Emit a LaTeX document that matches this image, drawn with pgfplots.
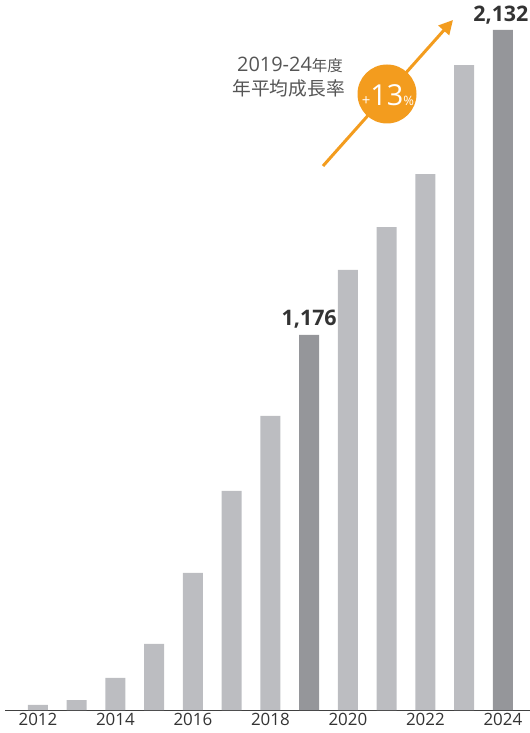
\documentclass[border=0pt]{standalone}
\usepackage{pgfplots}
\pgfplotsset{compat=1.18}
\usepackage{fontspec}
\setmainfont{Open Sans}
\newfontfamily\jp{Noto Sans CJK JP}
\usetikzlibrary{arrows.meta}
\definecolor{lightbar}{HTML}{BCBDC1}
\definecolor{darkbar}{HTML}{95969A}
\definecolor{orng}{HTML}{F39C1E}
\definecolor{txt}{HTML}{333333}
\definecolor{ann}{HTML}{555555}
\begin{document}
\begin{tikzpicture}
\useasboundingbox (0,0) rectangle (530bp,733bp);
\begin{axis}[
  at={(5bp,23bp)}, anchor=south west,
  scale only axis, width=525bp, height=710bp,
  xmin=2011.15, xmax=2024.70, ymin=0, ymax=2226,
  axis x line*=bottom, axis y line=none,
  x axis line style={-, line width=1pt, color=black!75},
  xtick={2012,2014,...,2024},
  /pgf/number format/assume math mode=true,
  xticklabel style={font=\fontsize{17}{19}\selectfont, text=txt, yshift=0bp},
  xticklabel={\pgfmathprintnumber[1000 sep={}]{\tick}},
  major tick length=0pt,
  ybar, bar width=20bp, bar shift=0pt,
  clip=false,
]
\addplot[fill=lightbar, draw=none] coordinates {
(2012,16) (2013,31) (2014,101) (2015,207) (2016,430) (2017,687) (2018,922)
(2020,1380) (2021,1514) (2022,1680) (2023,2022)};
\addplot[fill=darkbar, draw=none] coordinates {(2019,1176) (2024,2132)};
\node[anchor=south, font=\fontsize{21.5}{23}\selectfont\bfseries, text=txt, inner sep=0pt] at (axis cs:2019,1176) [yshift=6bp] {1,176};
\node[anchor=south, font=\fontsize{21.5}{23}\selectfont\bfseries, text=txt, inner sep=0pt] at (axis cs:2024,2132) [yshift=6bp,xshift=-2bp] {2,132};
\end{axis}
\begin{scope}[x=1bp,y=-1bp,shift={(0,733bp)}]
\draw[orng, line width=3bp, -{Triangle[length=14bp,width=14bp]}] (323,166) -- (453,20);
\fill[orng] (387,94) circle (29.5);
\node[text=white, inner sep=0pt] at (388,95) {\fontsize{15}{16}\selectfont +\fontsize{29}{30}\selectfont 13\fontsize{13}{14}\selectfont\%};
\node[anchor=base east, text=ann, inner sep=0pt] at (343,72) {\fontsize{20}{22}\selectfont 2019-24\jp\fontsize{15.5}{17}\selectfont 年度};
\node[anchor=base east, text=ann, inner sep=0pt] at (345,96) {\jp\fontsize{18.8}{20}\selectfont 年平均成長率};
\end{scope}
\end{tikzpicture}
\end{document}
